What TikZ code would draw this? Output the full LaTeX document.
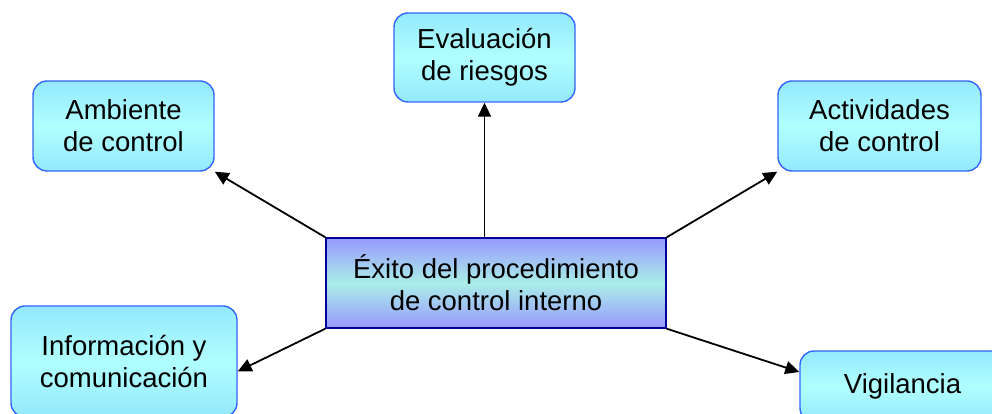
\documentclass[tikz,border=0pt]{standalone}
\usepackage{fontspec}
\setmainfont{Liberation Sans}
\usetikzlibrary{arrows.meta}

\definecolor{boxtop}{HTML}{94E8FC}
\definecolor{boxmid}{HTML}{B0FFFF}
\definecolor{boxline}{HTML}{3366FF}
\definecolor{maintop}{HTML}{9999FF}
\definecolor{mainmid}{HTML}{AAEEE8}
\definecolor{mainline}{HTML}{000099}

\begin{document}
\begin{tikzpicture}[x=1pt, y=1pt,
	box/.style={draw=boxline, line width=1.4pt, rounded corners=14pt, top color=boxtop, bottom color=boxtop, middle color=boxmid, align=center, font=\fontsize{27.5}{32}\selectfont, inner sep=0pt},
	mainbox/.style={draw=mainline, line width=1.4pt, top color=maintop, bottom color=maintop, middle color=mainmid, align=center, font=\fontsize{27.5}{32}\selectfont, inner sep=0pt, minimum width=340pt, minimum height=90pt},
	link/.style={line width=1.8pt, -{Triangle[length=14pt, width=13pt]}}]
	\useasboundingbox (0, 0) rectangle (992, 414);
	
	\node [mainbox] (ctr) at (496, 131) {Éxito del procedimiento\\de control interno};
	
	\node [box, minimum width=181pt, minimum height=90pt] (amb) at (123.5, 288) {Ambiente\\de control};
	\node [box, minimum width=181pt, minimum height=89pt] (eva) at (484.5, 356.5) {Evaluación\\de riesgos};
	\node [box, minimum width=203pt, minimum height=90pt] (act) at (879.5, 288) {Actividades\\de control};
	\node [box, minimum width=226pt, minimum height=111pt] (info) at (124, 52.5) {Información y\\comunicación};
	\node [box, minimum width=205pt, minimum height=71pt] (vig) at (902.5, 27.5) {Vigilancia};
	
	\draw [link] (ctr.north west) -- (amb.south east);
	\draw [link] (ctr.north -| eva.south) -- (eva.south);
	\draw [link] (ctr.north east) -- (act.south west);
	\draw [link] (ctr.south west) -- (info.-5.3);
	\draw [link] (ctr.south east) -- (vig.172.5);
\end{tikzpicture}
\end{document}
